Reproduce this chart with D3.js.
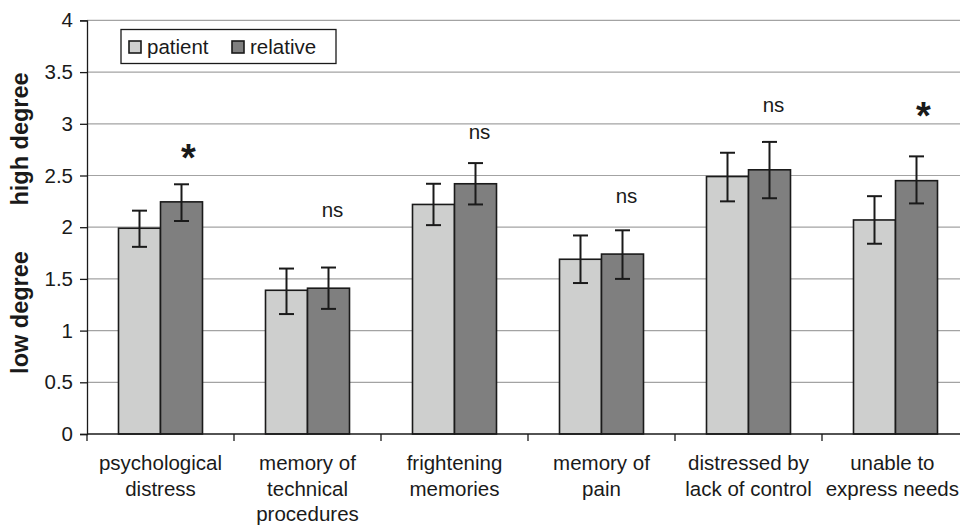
<!DOCTYPE html>
<html><head><meta charset="utf-8">
<script src="https://cdn.jsdelivr.net/npm/d3@7"></script>
<style>
html,body{margin:0;padding:0;background:#fff;}
svg text{font-family:"Liberation Sans",Arial,sans-serif;fill:#1a1a1a;}
</style></head>
<body><svg id="c" width="960" height="525"></svg>
<script>
const categories = [
  ["psychological","distress"],
  ["memory of","technical","procedures"],
  ["frightening","memories"],
  ["memory of","pain"],
  ["distressed by","lack of control"],
  ["unable to","express needs"]
];
const seriesNames = ["patient","relative"];
const patientMean = [1.99, 1.39, 2.22, 1.69, 2.49, 2.07];
const patientLow  = [1.81, 1.16, 2.02, 1.46, 2.25, 1.84];
const patientHigh = [2.16, 1.60, 2.42, 1.92, 2.72, 2.30];
const relativeMean = [2.245, 1.41, 2.42, 1.74, 2.555, 2.45];
const relativeLow  = [2.06, 1.21, 2.22, 1.50, 2.28, 2.23];
const relativeHigh = [2.415, 1.61, 2.62, 1.97, 2.825, 2.685];
const sigLabels = ["*","ns","ns","ns","ns","*"];
const sigY = [2.54, 2.10, 2.85, 2.23, 3.11, 2.95];
const yTicks = [0,0.5,1,1.5,2,2.5,3,3.5,4];

const colors = {patient:"#cecfce", relative:"#7f7f7f"};
const svg = d3.select("#c");
const W = 960;
const x0 = 87, yBase = 434, yTop = 20.4;
const bandW = 147;
const x = d3.scaleBand().domain(d3.range(categories.length)).range([x0, x0 + bandW*categories.length]).paddingInner(0).paddingOuter(0);
const xs = d3.scaleBand().domain(seriesNames).range([0, x.bandwidth()]).paddingInner(0).paddingOuter(0.75);
const y = d3.scaleLinear().domain([0,4]).range([yBase, yTop]);

// grid
svg.append("g").selectAll("line").data(yTicks.filter(d=>d>0)).join("line")
  .attr("x1", x0).attr("x2", W).attr("y1", d=>y(d)).attr("y2", d=>y(d))
  .attr("stroke", "#a3a3a3").attr("stroke-width", 1.2);

// y axis
const yAxis = d3.axisLeft(y).tickValues(yTicks).tickSize(7).tickPadding(7).tickFormat(d3.format("~g"));
const gy = svg.append("g").attr("transform", `translate(${x0},0)`).call(yAxis);
gy.select(".domain").attr("stroke","#1a1a1a").attr("stroke-width",1.3);
gy.selectAll(".tick line").attr("stroke","#1a1a1a").attr("stroke-width",1.3);
gy.selectAll(".tick text").attr("font-size","20.5px").attr("fill","#1a1a1a")
  .attr("font-family","Liberation Sans, Arial, sans-serif");

const rows = categories.map((c,i)=>({i,
  vals:[{s:"patient",v:patientMean[i],lo:patientLow[i],hi:patientHigh[i]},
        {s:"relative",v:relativeMean[i],lo:relativeLow[i],hi:relativeHigh[i]}]}));

const groups = svg.append("g").selectAll("g").data(rows).join("g")
  .attr("transform", d=>`translate(${x(d.i)},0)`);
groups.selectAll("rect").data(d=>d.vals).join("rect")
  .attr("x", d=>xs(d.s)).attr("width", xs.bandwidth())
  .attr("y", d=>y(d.v)).attr("height", d=>yBase - y(d.v))
  .attr("fill", d=>colors[d.s]).attr("stroke","#1a1a1a").attr("stroke-width",1.6);
const eb = groups.selectAll("g.eb").data(d=>d.vals).join("g").attr("class","eb")
  .attr("transform", d=>`translate(${xs(d.s)+xs.bandwidth()/2},0)`);
eb.append("line").attr("y1", d=>y(d.lo)).attr("y2", d=>y(d.hi)).attr("stroke","#1a1a1a").attr("stroke-width",2);
eb.append("line").attr("x1",-7.5).attr("x2",7.5).attr("y1", d=>y(d.lo)).attr("y2", d=>y(d.lo)).attr("stroke","#1a1a1a").attr("stroke-width",2);
eb.append("line").attr("x1",-7.5).attr("x2",7.5).attr("y1", d=>y(d.hi)).attr("y2", d=>y(d.hi)).attr("stroke","#1a1a1a").attr("stroke-width",2);

// x axis
const xAxisLine = svg.append("g");
xAxisLine.append("line").attr("x1", x0).attr("x2", W).attr("y1", yBase).attr("y2", yBase)
  .attr("stroke","#1a1a1a").attr("stroke-width",1.3);
xAxisLine.selectAll("line.t").data(d3.range(categories.length+1)).join("line").attr("class","t")
  .attr("x1", i=>x0 + i*x.step()).attr("x2", i=>x0 + i*x.step())
  .attr("y1", yBase).attr("y2", yBase+7).attr("stroke","#1a1a1a").attr("stroke-width",1.3);

// category labels
const cl = svg.append("g").selectAll("text").data(categories).join("text")
  .attr("x", (d,i)=>x(i)+x.bandwidth()/2).attr("y", 470)
  .attr("text-anchor","middle").attr("font-size","20.5px");
cl.selectAll("tspan").data(d=>d).join("tspan")
  .attr("x", function(){return d3.select(this.parentNode).attr("x");})
  .attr("dy", (d,j)=> j===0 ? 0 : 25.5).text(d=>d);
// keep labels inside the picture
cl.each(function(){
  const t = d3.select(this);
  const bb = this.getBBox();
  const over = bb.x + bb.width - (W - 1);
  if (over > 0) {
    const nx = +t.attr("x") - over;
    t.attr("x", nx);
    t.selectAll("tspan").attr("x", nx);
  }
});

// significance labels
svg.append("g").selectAll("text").data(sigLabels).join("text")
  .attr("x", (d,i)=> x(i) + xs("relative") + xs.bandwidth()/2 + (d==="*"?7:4))
  .attr("y", (d,i)=> y(sigY[i]))
  .attr("text-anchor","middle")
  .attr("font-size", d=> d==="*" ? "38px" : "20.5px")
  .attr("font-weight", d=> d==="*" ? "bold" : "normal")
  .text(d=>d);

// y titles
svg.append("text").attr("transform","translate(28,139) rotate(-90)").attr("text-anchor","middle")
  .attr("font-size","23.5px").attr("font-weight","bold").text("high degree");
svg.append("text").attr("transform","translate(28,312.5) rotate(-90)").attr("text-anchor","middle")
  .attr("font-size","23.5px").attr("font-weight","bold").text("low degree");

// legend
const lg = svg.append("g");
lg.append("rect").attr("x",121).attr("y",29.5).attr("width",215).attr("height",34)
  .attr("fill","#fff").attr("stroke","#1a1a1a").attr("stroke-width",1.3);
const li = lg.selectAll("g").data(seriesNames).join("g")
  .attr("transform",(d,i)=>`translate(${[129,232][i]},0)`);
li.append("rect").attr("x",0).attr("y",41).attr("width",12).attr("height",12)
  .attr("fill", d=>colors[d]).attr("stroke","#1a1a1a").attr("stroke-width",1.6);
li.append("text").attr("x",18).attr("y",54).attr("font-size","20.5px").text(d=>d);
</script></body></html>
